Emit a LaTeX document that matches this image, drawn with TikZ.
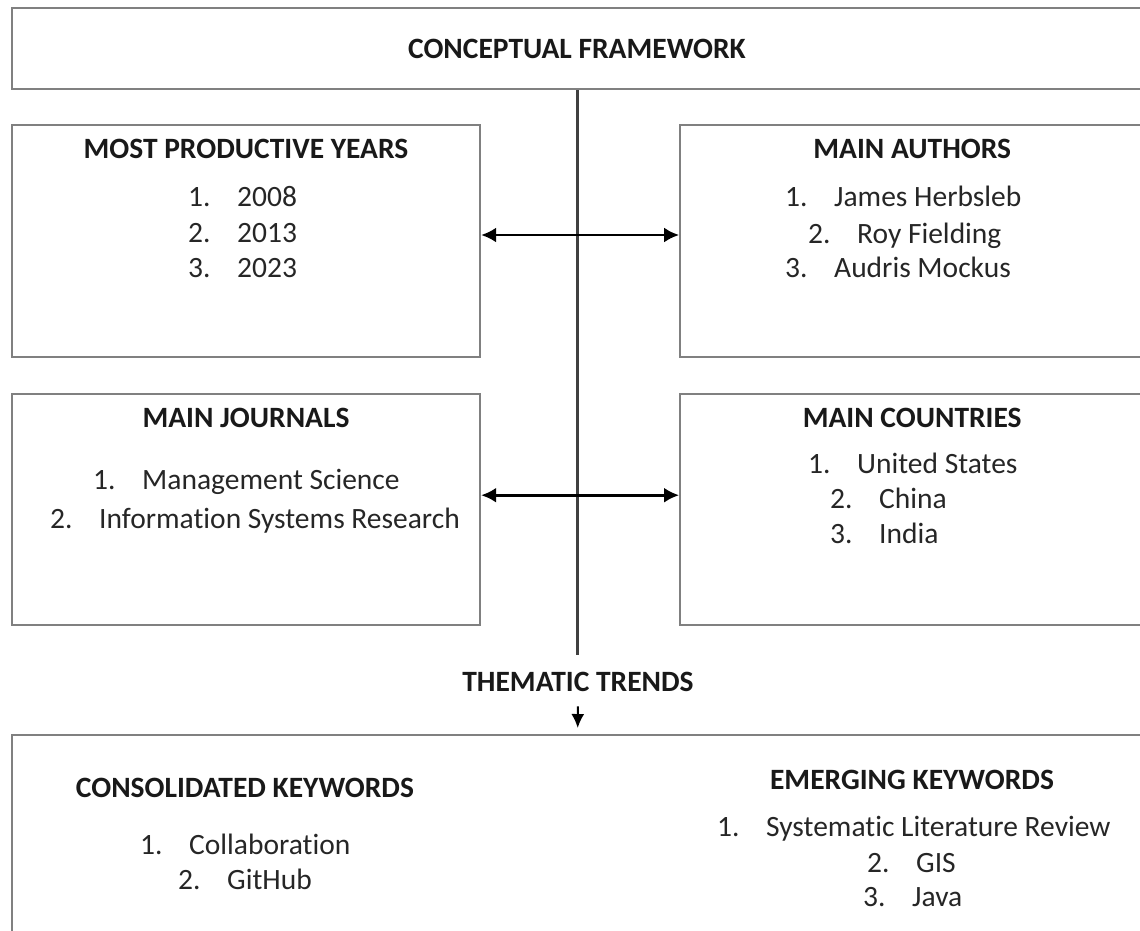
\documentclass[tikz,border=0pt]{standalone}
\usepackage{fontspec}
\setmainfont{Carlito}[Ligatures=NoCommon]
\usepackage{xcolor}
\usetikzlibrary{positioning,arrows.meta}
\tikzset{
	feld/.style={draw=black!50, line width=2.2pt, rectangle, inner sep=0pt}, % Kasten
	titel/.style={font=\fontsize{29.5pt}{35pt}\selectfont\bfseries, text=black!90, inner sep=0pt, anchor=base},
	punkt/.style={font=\fontsize{29.5pt}{35pt}\selectfont, text=black!85, inner sep=0pt, anchor=base west},
	doppelpfeil/.style={{Latex[length=15pt,width=15pt]}-{Latex[length=15pt,width=15pt]}, line width=2.8pt, black},
	stamm/.style={draw=black!75, line width=3pt},
	pfeil/.style={-{Latex[length=14pt,width=13pt]}, line width=2pt, black, shorten <=14.5pt, shorten >=6pt}
}
\newcommand{\nr}[1]{\makebox[49pt][l]{#1}}

\begin{document}
\begin{tikzpicture}[x=1pt, y=-1pt]
		\path[use as bounding box] (0,0) rectangle (1140,930);
		\clip (0,0) rectangle (1140,930);
		
		\node[feld, titel, anchor=center, minimum width=1130pt, minimum height=81pt] (framework) at (577,48.5) {CONCEPTUAL FRAMEWORK};
		\node[feld, minimum width=468pt, minimum height=232pt] (years) at (246,241) {};		% Jahre
		\node[feld, minimum width=464pt, minimum height=232pt, right=198pt of years] (authors) {};	% Autoren
		\node[feld, minimum width=468pt, minimum height=231pt, below=35pt of years] (journals) {};	% Zeitschriften
		\node[feld, minimum width=464pt, minimum height=231pt, below=35pt of authors] (countries) {};	% Laender
		\node[feld, anchor=north, minimum width=1130pt, minimum height=220pt] (keywords) at (577,734) {};	% Schlagwoerter
		\coordinate (line-end) at (577,655);	% Ende der Mittellinie
		\node[titel] (trends) at (578,691.5) {THEMATIC TRENDS};
		
		% Ueberschriften
		\node[titel, below=15.5pt of years.north] (years-t) {MOST PRODUCTIVE YEARS};
		\node[titel, below=15.5pt of authors.north] (authors-t) {MAIN AUTHORS};
		\node[titel, below=14.5pt of journals.north] (journals-t) {MAIN JOURNALS};
		\node[titel, below=14.5pt of countries.north] (countries-t) {MAIN COUNTRIES};
		\node[titel] (consolidated-t) at (245,797.5) {CONSOLIDATED KEYWORDS};
		\node[titel] (emerging-t) at (912,789.5) {EMERGING KEYWORDS};
		
		% Listen
		\node[punkt] (years-1) at (188,206.5) {\nr{1.}2008};
		\node[punkt] (years-2) at (188,242.5) {\nr{2.}2013};
		\node[punkt] (years-3) at (188,277.5) {\nr{3.}2023};
		\node[punkt] (authors-1) at (785,206.5) {\nr{1.}James Herbsleb};
		\node[punkt] (authors-2) at (808,243.5) {\nr{2.}Roy Fielding};
		\node[punkt] (authors-3) at (785,277.5) {\nr{3.}Audris Mockus};
		\node[punkt] (journals-1) at (93,489.5) {\nr{1.}Management Science};
		\node[punkt] (journals-2) at (50,528.5) {\nr{2.}Information Systems Research};
		\node[punkt] (countries-1) at (808,473.5) {\nr{1.}United States};
		\node[punkt] (countries-2) at (830,508.5) {\nr{2.}China};
		\node[punkt] (countries-3) at (830,543.5) {\nr{3.}India};
		\node[punkt] (consolidated-1) at (140,854.5) {\nr{1.}Collaboration};
		\node[punkt] (consolidated-2) at (178,889.5) {\nr{2.}GitHub};
		\node[punkt] (emerging-1) at (717,836.5) {\nr{1.}Systematic Literature Review};
		\node[punkt] (emerging-2) at (867,872.5) {\nr{2.}GIS};
		\node[punkt] (emerging-3) at (863,906.5) {\nr{3.}Java};
		
		% Verbindungen
		\draw[stamm] (framework) -- (line-end);
		\draw[doppelpfeil] ([yshift=6pt]years.east) -- ([yshift=6pt]authors.west);
		\draw[doppelpfeil] ([yshift=14.5pt]journals.east) -- ([yshift=14.5pt]countries.west);
		\draw[pfeil] (trends) -- (keywords);
\end{tikzpicture}
\end{document}
